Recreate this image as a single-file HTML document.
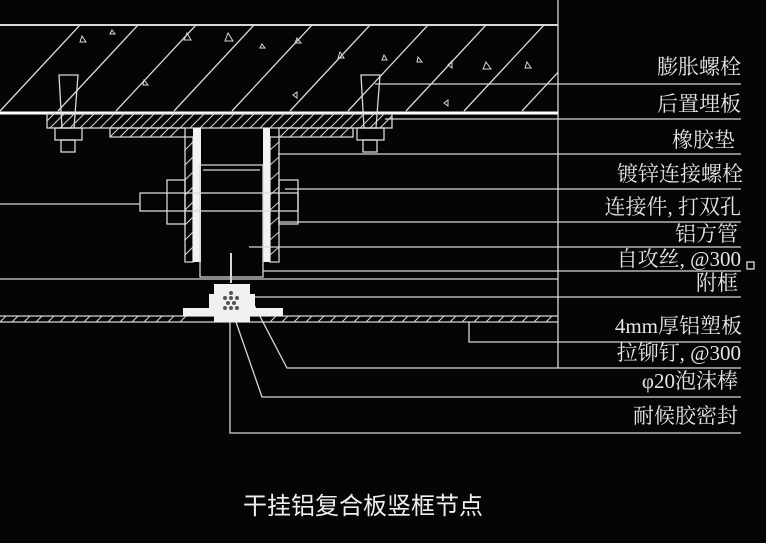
<!DOCTYPE html>
<html><head><meta charset="utf-8"><style>
html,body{margin:0;padding:0;background:#050505;}
svg{display:block}
.t{font-family:"Liberation Serif","Noto Serif CJK SC",serif;font-size:21px;fill:#e6e6e6;text-anchor:end}
</style></head><body>
<svg width="766" height="543" viewBox="0 0 766 543" xmlns="http://www.w3.org/2000/svg">
<defs>
<clipPath id="conc"><rect x="0" y="25" width="558" height="88"/></clipPath>
<clipPath id="plate"><rect x="47" y="113" width="345" height="15"/></clipPath>
<clipPath id="fl"><rect x="110" y="128" width="243" height="9"/></clipPath>
<clipPath id="pan"><rect x="0" y="316" width="558" height="6"/></clipPath>
<clipPath id="legL"><rect x="185" y="137" width="8" height="125"/></clipPath>
<clipPath id="legR"><rect x="270" y="137" width="9" height="125"/></clipPath>
</defs>
<rect width="766" height="543" fill="#050505"/>
<g stroke="#d8d8d8" fill="none" stroke-width="1.3">
<line x1="0" y1="25" x2="558" y2="25" stroke-width="2"/>
<line x1="558" y1="0" x2="558" y2="368"/>
<g clip-path="url(#conc)">
<line x1="0" y1="111" x2="80" y2="25"/><line x1="58" y1="111" x2="138" y2="25"/>
<line x1="116" y1="111" x2="196" y2="25"/><line x1="174" y1="111" x2="254" y2="25"/>
<line x1="232" y1="111" x2="312" y2="25"/><line x1="290" y1="111" x2="370" y2="25"/>
<line x1="348" y1="111" x2="428" y2="25"/><line x1="406" y1="111" x2="486" y2="25"/>
<line x1="464" y1="111" x2="544" y2="25"/><line x1="522" y1="111" x2="602" y2="25"/>
</g>
<g stroke-width="1">
<path d="M82 36l4 6h-6z"/><path d="M112 30l3 4h-5z"/><path d="M187 33l4 7h-7z"/><path d="M228 33l5 8h-8z"/><path d="M262 44l3 4h-5z"/><path d="M297 38l4 5h-6z"/><path d="M340 52l4 6h-6z"/><path d="M384 55l3 5h-5z"/><path d="M418 57l4 5h-5z"/><path d="M452 61l-4 4 4 3z"/><path d="M486 62l5 7h-8z"/><path d="M527 62l4 6h-6z"/><path d="M144 80l4 5h-5z"/><path d="M297 92l-4 3 4 3z"/><path d="M448 100l-4 3 4 3z"/>
</g>
<line x1="0" y1="113" x2="558" y2="113" stroke="#fff" stroke-width="3"/>
<rect x="47" y="114" width="345" height="14"/>
<g clip-path="url(#plate)" stroke-width="1">
<path d="M40 128l15-15M50 128l15-15M60 128l15-15M70 128l15-15M80 128l15-15M90 128l15-15M100 128l15-15M110 128l15-15M120 128l15-15M130 128l15-15M140 128l15-15M150 128l15-15M160 128l15-15M170 128l15-15M180 128l15-15M190 128l15-15M200 128l15-15M210 128l15-15M220 128l15-15M230 128l15-15M240 128l15-15M250 128l15-15M260 128l15-15M270 128l15-15M280 128l15-15M290 128l15-15M300 128l15-15M310 128l15-15M320 128l15-15M330 128l15-15M340 128l15-15M350 128l15-15M360 128l15-15M370 128l15-15M380 128l15-15"/>
</g>
<path d="M59 75h19l-4 53h-12z"/><rect x="55" y="128" width="27" height="12"/><rect x="61" y="140" width="14" height="12"/>
<path d="M361 75h19l-4 53h-12z"/><rect x="357" y="128" width="27" height="12"/><rect x="363" y="140" width="14" height="12"/>
<path d="M110 128h75v134h8v-125h-83z"/>
<path d="M353 128h-74v134h-9v-125h83z"/>
<g clip-path="url(#fl)" stroke-width="1"><path d="M110 137l9-9M120 137l9-9M130 137l9-9M140 137l9-9M150 137l9-9M160 137l9-9M170 137l9-9M280 137l9-9M290 137l9-9M300 137l9-9M310 137l9-9M320 137l9-9M330 137l9-9M340 137l9-9"/></g>
<g clip-path="url(#legL)" stroke-width="1"><path d="M185 150l8-8M185 165l8-8M185 180l8-8M185 195l8-8M185 210l8-8M185 225l8-8M185 240l8-8M185 255l8-8"/></g>
<g clip-path="url(#legR)" stroke-width="1"><path d="M270 150l9-8M270 165l9-8M270 180l9-8M270 195l9-8M270 210l9-8M270 225l9-8M270 240l9-8M270 255l9-8"/></g>
</g>
<rect x="193" y="128" width="8" height="134" fill="#f2f2f2"/>
<rect x="263" y="128" width="7" height="134" fill="#f2f2f2"/>
<g stroke="#d8d8d8" fill="none" stroke-width="1.3">
<path d="M200 165h63v112h-63z"/><path d="M203 170h57"/>
<rect x="140" y="193" width="158" height="18"/>
<rect x="167" y="180" width="18" height="44"/><rect x="279" y="180" width="19" height="44"/>
<line x1="231" y1="253" x2="231" y2="283" stroke-width="2"/>
<line x1="375" y1="84" x2="741" y2="84"/>
<line x1="385" y1="119" x2="741" y2="119"/>
<line x1="278" y1="154" x2="741" y2="154"/>
<line x1="285" y1="189" x2="741" y2="189"/>
<line x1="0" y1="204" x2="140" y2="204"/>
<line x1="278" y1="222" x2="741" y2="222"/>
<line x1="249" y1="247" x2="741" y2="247"/>
<line x1="263" y1="271" x2="741" y2="271"/>
<line x1="0" y1="279" x2="558" y2="279"/>
<line x1="253" y1="297" x2="741" y2="297"/>
<line x1="0" y1="316" x2="558" y2="316"/><line x1="0" y1="322" x2="558" y2="322"/>
<g clip-path="url(#pan)" stroke-width="1"><path d="M0 322l6-6M12 322l6-6M24 322l6-6M36 322l6-6M48 322l6-6M60 322l6-6M72 322l6-6M84 322l6-6M96 322l6-6M108 322l6-6M120 322l6-6M132 322l6-6M144 322l6-6M156 322l6-6M168 322l6-6M180 322l6-6M270 322l6-6M282 322l6-6M294 322l6-6M306 322l6-6M318 322l6-6M330 322l6-6M342 322l6-6M354 322l6-6M366 322l6-6M378 322l6-6M390 322l6-6M402 322l6-6M414 322l6-6M426 322l6-6M438 322l6-6M450 322l6-6M462 322l6-6M474 322l6-6M486 322l6-6M498 322l6-6M510 322l6-6M522 322l6-6M534 322l6-6M546 322l6-6"/></g>
<path d="M469 322v20h272"/>
<path d="M253 303l34 65h454"/>
<path d="M236 322l26 75h479"/>
<path d="M230 322v111h511"/>
</g>
<g fill="#f0f0f0">
<rect x="183" y="308" width="35" height="8"/><rect x="245" y="308" width="38" height="8"/>
<rect x="214" y="284" width="36" height="38"/><rect x="209" y="294" width="46" height="14"/>
</g>
<g fill="#555"><circle cx="225" cy="298" r="2"/><circle cx="231" cy="298" r="2"/><circle cx="237" cy="298" r="2"/><circle cx="228" cy="303" r="2"/><circle cx="234" cy="303" r="2"/><circle cx="231" cy="293" r="2"/><circle cx="225" cy="308" r="2"/><circle cx="231" cy="308" r="2"/><circle cx="237" cy="308" r="2"/></g>
<rect x="747" y="262" width="7" height="7" fill="none" stroke="#ddd" stroke-width="1.3"/>
<text class="t" x="741" y="74">膨胀螺栓</text>
<text class="t" x="741" y="111">后置埋板</text>
<text class="t" x="735" y="147">橡胶垫</text>
<text class="t" x="743" y="181">镀锌连接螺栓</text>
<text class="t" x="741" y="214">连接件, 打双孔</text>
<text class="t" x="738" y="241">铝方管</text>
<text class="t" x="741" y="266">自攻丝, @300</text>
<text class="t" x="738" y="290">附框</text>
<text class="t" x="742" y="333">4mm厚铝塑板</text>
<text class="t" x="741" y="360">拉铆钉, @300</text>
<text class="t" x="738" y="388">φ20泡沫棒</text>
<text class="t" x="738" y="423">耐候胶密封</text>
<text x="363" y="514" fill="#f0f0f0" text-anchor="middle" font-family="'Liberation Sans','Noto Sans CJK SC',sans-serif" font-size="24">干挂铝复合板竖框节点</text>
</svg>
</body></html>
